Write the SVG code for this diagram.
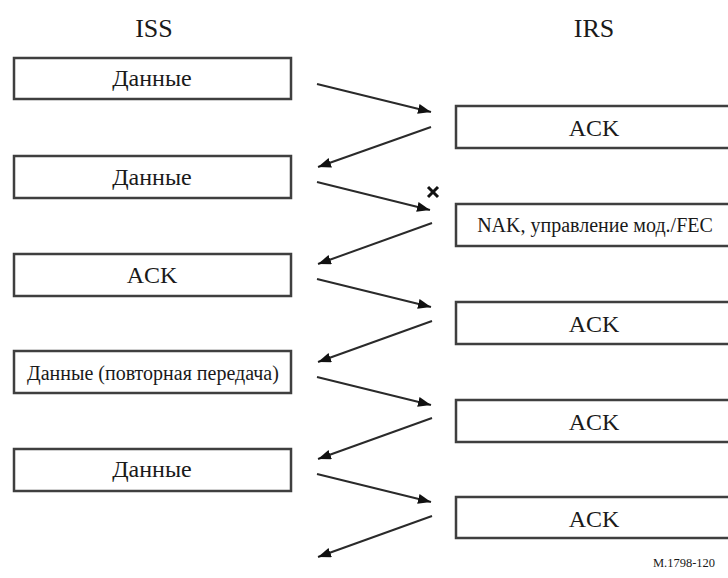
<svg xmlns="http://www.w3.org/2000/svg" width="728" height="578" viewBox="0 0 728 578">
<style>
.box{fill:#fff;stroke:#3f3f3f;stroke-width:2.5}
text{font-family:"Liberation Serif","Times New Roman",serif;fill:#1a1a1a;text-anchor:middle}
.big{font-size:24px}
.sm{font-size:20px}
.ttl{font-size:26px}
.c line{stroke:#2a2a2a;stroke-width:2;marker-end:url(#ah)}
</style>
<defs>
<marker id="ah" markerUnits="userSpaceOnUse" markerWidth="14" markerHeight="12" refX="13" refY="5" orient="auto">
<path d="M0,0 L13,5 L0,10 Z" fill="#111"/>
</marker>
</defs>
<rect width="728" height="578" fill="#fff"/>
<text class="ttl" x="154" y="37">ISS</text>
<text class="ttl" x="594" y="37">IRS</text>
<g id="iss1"><rect class="box" x="14" y="58" width="277" height="41"/><text class="big" x="152" y="86">Данные</text></g>
<g id="iss2"><rect class="box" x="14" y="156" width="277" height="42"/><text class="big" x="152" y="185">Данные</text></g>
<g id="iss3"><rect class="box" x="14" y="254" width="277" height="42"/><text class="big" x="152" y="283">ACK</text></g>
<g id="iss4"><rect class="box" x="14" y="351" width="277" height="42"/><text class="sm" x="153" y="380">Данные (повторная передача)</text></g>
<g id="iss5"><rect class="box" x="14" y="449" width="277" height="42"/><text class="big" x="152" y="477">Данные</text></g>
<g id="irs1"><rect class="box" x="456" y="106" width="280" height="42"/><text class="big" x="594" y="136">ACK</text></g>
<g id="irs2"><rect class="box" x="456" y="204" width="280" height="42"/><text class="sm" x="595" y="232">NAK, управление мод./FEC</text></g>
<g id="irs3"><rect class="box" x="456" y="302" width="280" height="42"/><text class="big" x="594" y="332">ACK</text></g>
<g id="irs4"><rect class="box" x="456" y="400" width="280" height="42"/><text class="big" x="594" y="430">ACK</text></g>
<g id="irs5"><rect class="box" x="456" y="497" width="280" height="41"/><text class="big" x="594" y="527">ACK</text></g>
<text x="684" y="567" font-size="12.5">M.1798-120</text>
<g id="connectors" class="c">
<line x1="317" y1="84" x2="431" y2="112"/>
<line x1="431" y1="127" x2="318" y2="167"/>
<line x1="317" y1="182" x2="430" y2="210"/>
<line x1="432" y1="223" x2="318" y2="264"/>
<line x1="317" y1="279" x2="431" y2="307"/>
<line x1="432" y1="321" x2="318" y2="362"/>
<line x1="317" y1="377" x2="431" y2="405"/>
<line x1="432" y1="418" x2="318" y2="459"/>
<line x1="317" y1="474" x2="431" y2="502"/>
<line x1="432" y1="516" x2="318" y2="557"/>
</g>
<g id="lost" stroke="#111" stroke-width="3">
<line x1="428" y1="187" x2="438" y2="197"/>
<line x1="438" y1="187" x2="428" y2="197"/>
</g>
</svg>
